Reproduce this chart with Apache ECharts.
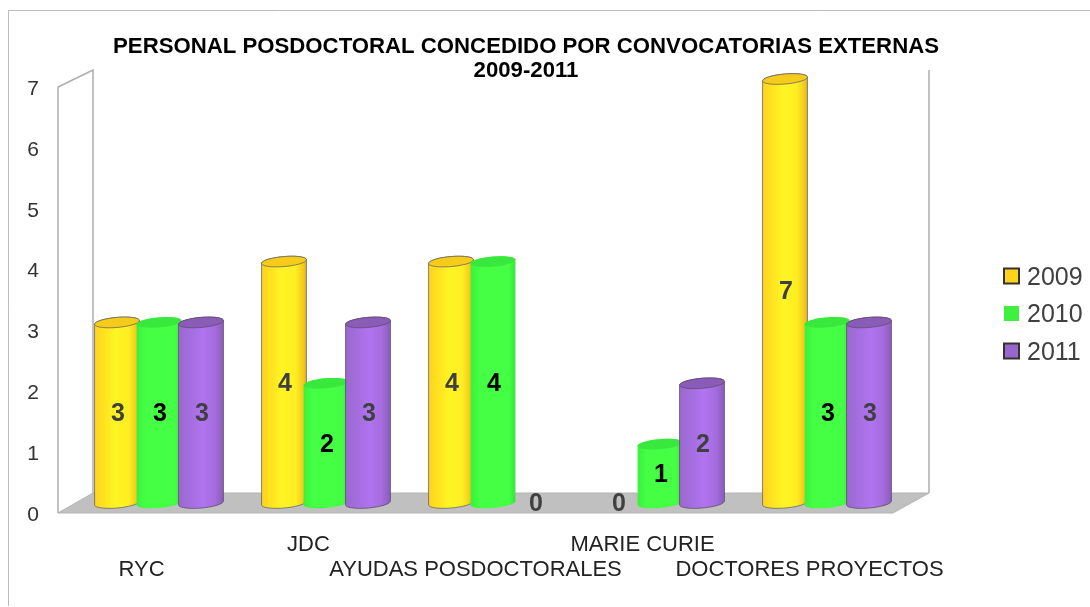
<!DOCTYPE html>
<html><head><meta charset="utf-8">
<style>html,body{margin:0;padding:0;background:#fff}#c{width:1090px;height:607px}</style>
<script src="https://cdn.jsdelivr.net/npm/echarts@6/dist/echarts.min.js"></script>
</head><body><div id="c"></div>
<script>
var categories = ['RYC','JDC','AYUDAS POSDOCTORALES','MARIE CURIE','DOCTORES PROYECTOS'];
var values2009 = [3,4,4,0,7];
var values2010 = [3,2,4,1,3];
var values2011 = [3,3,0,2,3];
var yTicks = [0,1,2,3,4,5,6,7];
var titleLines = ['PERSONAL POSDOCTORAL CONCEDIDO POR CONVOCATORIAS EXTERNAS','2009-2011'];

var DEPTH_X = 35, DEPTH_Y = 20;
var A = 22.5, B = 5, TILT = -5 * Math.PI / 180, PITCH = 42;

function ell(cx, cy, t) {
  var x = A * Math.cos(t), y = B * Math.sin(t);
  return [cx + x * Math.cos(TILT) - y * Math.sin(TILT), cy + x * Math.sin(TILT) + y * Math.cos(TILT)];
}
function ellipsePts(cx, cy) {
  var p = [];
  for (var i = 0; i < 48; i++) p.push(ell(cx, cy, i / 48 * 2 * Math.PI));
  return p;
}
function bodyPts(cx, topY, baseY) {
  var p = [], i;
  for (i = 0; i <= 24; i++) p.push(ell(cx, baseY, i / 24 * Math.PI));
  for (i = 0; i <= 24; i++) p.push(ell(cx, topY, Math.PI + i / 24 * Math.PI));
  return p;
}
function cylinderSeries(name, data, idx, st) {
  return {
    type: 'custom', name: name, clip: false, silent: true,
    itemStyle: {color: st.legend, borderColor: st.legendBorder || st.legend, borderWidth: st.legendBorder ? 1 : 0},
    encode: {x: 0, y: 1},
    data: data.map(function (v, i) { return [i, v]; }),
    renderItem: function (params, api) {
      var v = api.value(1), c = api.coord([api.value(0), v]), c0 = api.coord([api.value(0), 0]);
      var cx = c[0] + DEPTH_X / 2 + (idx - 1) * PITCH;
      var baseY = c0[1] - 10, topY = c[1] - 8;
      var kids = [];
      if (v > 0) {
        kids.push({type: 'polygon', shape: {points: bodyPts(cx, topY, baseY)},
          style: {fill: new echarts.graphic.LinearGradient(0, 0, 1, 0, st.stops),
            stroke: st.outline || null, lineWidth: st.outline ? 0.8 : 0}});
        kids.push({type: 'polygon', shape: {points: ellipsePts(cx, topY)},
          style: {fill: st.top, stroke: st.outline || null, lineWidth: st.outline ? 0.8 : 0}});
      }
      kids.push({type: 'text', style: {text: String(v), x: cx + 1, y: (v > 0 ? (topY + baseY) / 2 : baseY) + 1.5,
        align: 'center', verticalAlign: 'middle', fill: st.label,
        font: 'bold 25px "Liberation Sans", Arial, sans-serif'}});
      return {type: 'group', children: kids};
    }
  };
}
var frameSeries = {
  type: 'custom', name: 'frame', silent: true, clip: false, z: 1,
  encode: {x: 0, y: 1}, data: [[0, 0]],
  renderItem: function (params, api) {
    var s = params.coordSys, L = s.x, R = s.x + s.width, T = s.y, F = s.y + s.height;
    var line = {stroke: '#ADADAD', lineWidth: 1.5, fill: null};
    return {type: 'group', children: [
      {type: 'polygon', shape: {points: [[L, F], [L + DEPTH_X, F - DEPTH_Y], [R + DEPTH_X + 1, F - DEPTH_Y], [R, F]]}, style: {fill: '#C0C0C0', stroke: '#B4B4B4', lineWidth: 1}},
      {type: 'polyline', shape: {points: [[L, F], [L, T], [L + DEPTH_X, T - 17], [L + DEPTH_X, F - DEPTH_Y]]}, style: line},
      {type: 'polyline', shape: {points: [[R + DEPTH_X + 1, T - 17], [R + DEPTH_X + 1, F - DEPTH_Y]]}, style: line}
    ]};
  }
};
var yellow = {legend: '#FFD41A', legendBorder: '#333', top: '#F6CB1A', outline: '#666666', label: '#404040',
  stops: [{offset: 0, color: '#FFD21E'}, {offset: .45, color: '#FFF424'}, {offset: .75, color: '#FFEE22'}, {offset: .93, color: '#F2C81C'}, {offset: 1, color: '#D8B020'}]};
var green = {legend: '#40F040', top: '#38E83C', outline: null, label: '#000000',
  stops: [{offset: 0, color: '#3CF03E'}, {offset: .2, color: '#44FF44'}, {offset: .85, color: '#44FF44'}, {offset: 1, color: '#38E43C'}]};
var purple = {legend: '#9966CC', legendBorder: '#333', top: '#8A5CB8', outline: '#5d4d6c', label: '#404040',
  stops: [{offset: 0, color: '#9A68CE'}, {offset: .55, color: '#B074F0'}, {offset: .8, color: '#A56CDE'}, {offset: 1, color: '#8A5CB8'}]};

var chart = echarts.init(document.getElementById('c'), null, {renderer: 'canvas'});
chart.setOption({
  animation: false,
  backgroundColor: '#fff',
  textStyle: {fontFamily: '"Liberation Sans", Arial, sans-serif'},
  title: {text: titleLines.join('\n'), left: 521, top: 30, textAlign: 'center',
    textStyle: {fontSize: 22.2, fontWeight: 'bold', color: '#000', lineHeight: 24}},
  grid: {left: 58, right: 197, top: 87, bottom: 94, containLabel: false},
  legend: {orient: 'vertical', left: 998, top: 260.5, itemWidth: 15, itemHeight: 15, itemGap: 12.5,
    icon: 'rect', data: ['2009', '2010', '2011'], selectedMode: false,
    formatter: function (n) { return '{a|' + n + '}'; },
    textStyle: {fontSize: 25, color: '#404040', rich: {a: {fontSize: 25, color: '#404040', padding: [4, 0, 0, 3]}}}},
  xAxis: {type: 'category', data: categories,
    axisLine: {show: false}, axisTick: {show: false}, splitLine: {show: false},
    axisLabel: {interval: 0, margin: 19, fontSize: 22, color: '#222', lineHeight: 25, hideOverlap: false,
      formatter: function (v, i) { return i % 2 ? v + '\n ' : ' \n' + v; }}},
  yAxis: {type: 'value', min: 0, max: 7, interval: 1,
    axisLine: {show: false}, axisTick: {show: false}, splitLine: {show: false},
    axisLabel: {margin: 19, color: '#333', formatter: function (v) { return '{a|' + yTicks[v] + '}'; },
      rich: {a: {fontSize: 21, color: '#333', padding: [4, 0, 0, 0]}}}},
  graphic: [
    {type: 'line', silent: true, shape: {x1: 8.5, y1: 10.5, x2: 8.5, y2: 606}, style: {stroke: '#BDBDBD', lineWidth: 1}},
    {type: 'line', silent: true, shape: {x1: 8, y1: 10.5, x2: 1090, y2: 10.5}, style: {stroke: '#BDBDBD', lineWidth: 1}}
  ],
  series: [frameSeries,
    cylinderSeries('2009', values2009, 0, yellow),
    cylinderSeries('2010', values2010, 1, green),
    cylinderSeries('2011', values2011, 2, purple)]
});
</script></body></html>
